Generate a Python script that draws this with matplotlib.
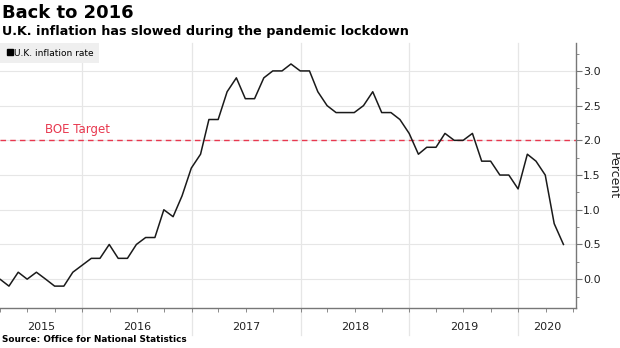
import numpy as np
import pandas as pd
import matplotlib
matplotlib.use('Agg')
import matplotlib.pyplot as plt
import matplotlib.dates as mdates
from matplotlib.lines import Line2D

# CPI annual rate, monthly, Feb 2015 - May 2020
months = pd.date_range('2015-02-01', '2020-05-01', freq='MS') + pd.offsets.MonthEnd(0)
cpi = [0.0, 0.0, -0.1, 0.1, 0.0, 0.1, 0.0, -0.1, -0.1, 0.1, 0.2,
       0.3, 0.3, 0.5, 0.3, 0.3, 0.5, 0.6, 0.6, 1.0, 0.9, 1.2, 1.6,
       1.8, 2.3, 2.3, 2.7, 2.9, 2.6, 2.6, 2.9, 3.0, 3.0, 3.1, 3.0,
       3.0, 2.7, 2.5, 2.4, 2.4, 2.4, 2.5, 2.7, 2.4, 2.4, 2.3, 2.1,
       1.8, 1.9, 1.9, 2.1, 2.0, 2.0, 2.1, 1.7, 1.7, 1.5, 1.5, 1.3,
       1.8, 1.7, 1.5, 0.8, 0.5]
years = [2015, 2016, 2017, 2018, 2019, 2020]
boe_target = 2.0
y_ticks = [0.0, 0.5, 1.0, 1.5, 2.0, 2.5, 3.0]

x_left = pd.Timestamp('2015-03-31')
x_right = pd.Timestamp('2020-07-12')

fig = plt.figure(figsize=(6.2, 3.48), dpi=100)
ax = fig.add_axes([0.0, 0.114, 0.929, 0.762])

grid_c = '#e6e6e6'
for v in y_ticks:
    ax.axhline(v, color=grid_c, lw=0.8, zorder=0)
for yr in years[1:]:
    ax.axvline(pd.Timestamp(f'{yr}-01-01'), ymin=-0.1, ymax=1, color=grid_c,
               lw=0.9, zorder=0, clip_on=False)

ax.axhline(boe_target, color='#e8384f', lw=1.0, ls=(0, (4, 3)), zorder=1)
ax.text(pd.Timestamp('2015-08-28'), boe_target + 0.06, 'BOE Target',
        color='#e8384f', fontsize=8.5, va='bottom', ha='left')

ax.plot(months, cpi, color='#1a1a1a', lw=1.1, zorder=3)

ax.set_xlim(x_left, x_right)
ax.set_ylim(-0.42, 3.4)

for s in ['left', 'top']:
    ax.spines[s].set_visible(False)
for s in ['right', 'bottom']:
    ax.spines[s].set_color('#777777')
    ax.spines[s].set_linewidth(1.0)

ax.yaxis.tick_right()
ax.set_yticks(y_ticks)
ax.set_yticklabels([f'{v:.1f}' for v in y_ticks])
ax.set_yticks(np.arange(-0.25, 3.4, 0.25), minor=True)
ax.tick_params(axis='y', which='major', length=4, color='#777777',
               labelsize=8, labelcolor='#222222', pad=1)
ax.tick_params(axis='y', which='minor', length=2, color='#777777')
ax.yaxis.set_label_position('right')
ax.set_ylabel('Percent', rotation=270, fontsize=9, color='#222222', labelpad=14)

# year labels centered on the visible part of each year
centers = []
for yr in years:
    a = max(pd.Timestamp(f'{yr}-01-01'), x_left)
    b = min(pd.Timestamp(f'{yr + 1}-01-01'), x_right)
    centers.append(a + (b - a) / 2)
ax.set_xticks(centers)
ax.set_xticklabels([str(y) for y in years])
ax.xaxis.set_minor_locator(mdates.MonthLocator(bymonth=[1, 4, 7, 10]))
ax.tick_params(axis='x', which='major', length=0, labelsize=8,
               labelcolor='#222222', pad=10)
ax.tick_params(axis='x', which='minor', length=3, color='#777777')

leg = ax.legend(handles=[Line2D([], [], marker='s', ls='none', color='black',
                                markersize=4.5)],
                labels=['U.K. inflation rate'], loc='upper left',
                bbox_to_anchor=(0.0, 1.0), frameon=True, fontsize=6.5,
                handletextpad=0.0, handlelength=1.0, borderpad=0.6,
                borderaxespad=0.0, fancybox=False)
leg.get_frame().set_facecolor('#efefef')
leg.get_frame().set_edgecolor('none')
leg.get_frame().set_alpha(1)

fig.text(0.003, 0.962, 'Back to 2016', fontsize=13, fontweight='bold',
         va='center', ha='left')
fig.text(0.003, 0.91, 'U.K. inflation has slowed during the pandemic lockdown',
         fontsize=9.2, fontweight='bold', va='center', ha='left')
fig.text(0.003, 0.012, 'Source: Office for National Statistics', fontsize=6.4,
         fontweight='bold', va='bottom', ha='left')

fig.savefig('out.png', dpi=100)
